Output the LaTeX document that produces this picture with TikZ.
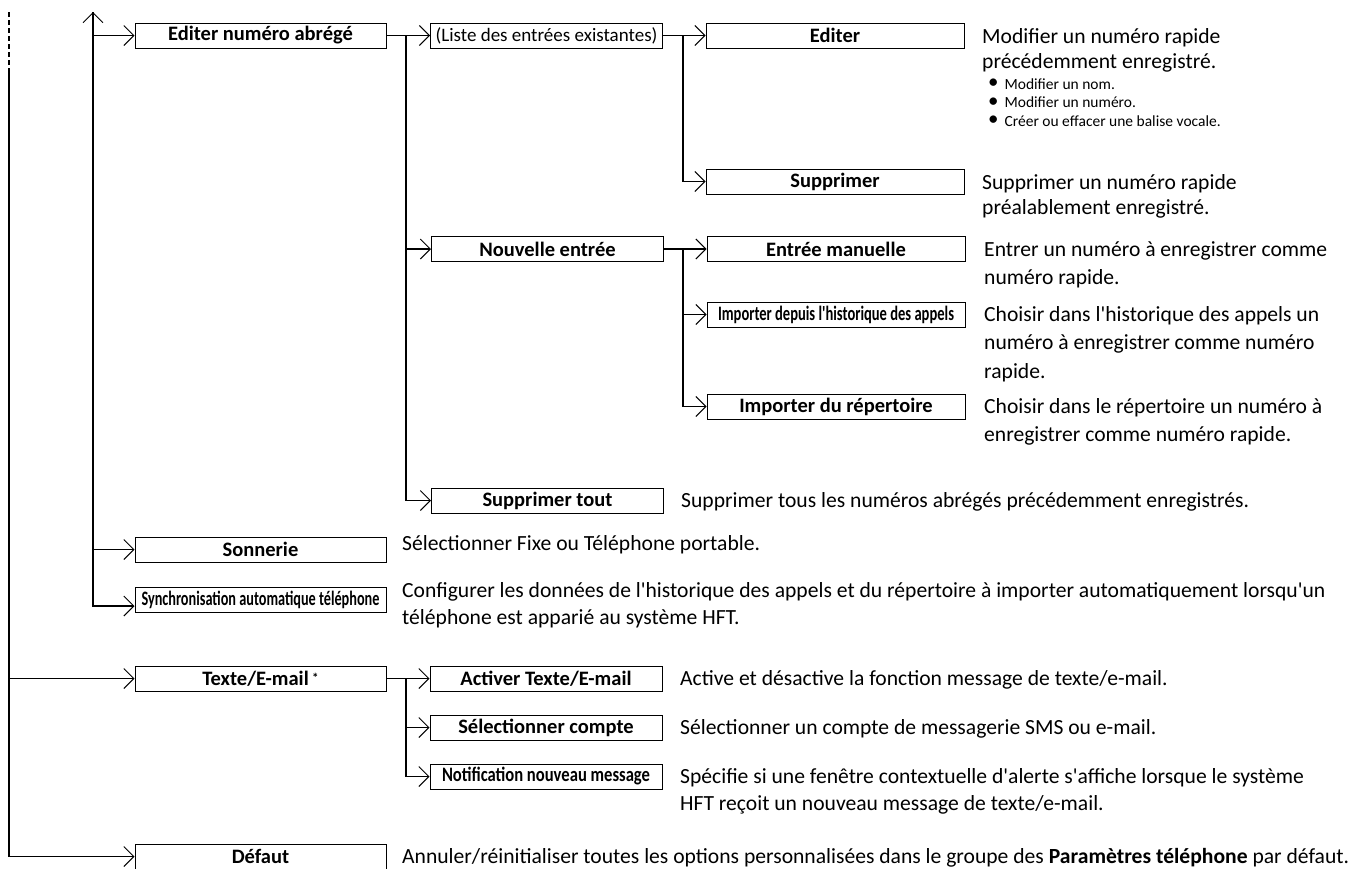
\documentclass[tikz,border=0pt]{standalone}
\usepackage{graphicx}
\usepackage{fontspec}
\setmainfont{Carlito}
\usetikzlibrary{arrows.meta}
\newcommand\lblfont{\fontsize{20.5}{22}\selectfont\bfseries}
\newcommand\lblregfont{\fontsize{19}{22}\selectfont}
\newcommand\descfont{\fontsize{21.6}{27}\selectfont}
\newcommand\descfontb{\fontsize{21.6}{25}\selectfont}
\newcommand\descfontc{\fontsize{21.6}{28.5}\selectfont}
\newcommand\bulfont{\fontsize{15.5}{18.5}\selectfont}
\newcommand\narrowlbl[2]{\resizebox{#1}{\height}{#2}}
\newcommand\apos{\XeTeXglyph\XeTeXcharglyph"0027\relax}
\newcommand\bul{\raisebox{0.5pt}{\scalebox{1.35}{\textbullet}}\hspace{6pt}}
\begin{document}
\begin{tikzpicture}[x=1pt,y=-1pt,
  box/.style={draw,line width=1pt,inner sep=0pt,minimum height=25pt,font=\lblfont,anchor=center},
  wa/.style={minimum width=251pt},
  wb/.style={minimum width=232pt},
  wc/.style={minimum width=258pt},
  conn/.style={line width=1.8pt},
  arr/.style={-{Straight Barb[length=10pt,width=20pt,line width=1pt]}},
  uparr/.style={{Straight Barb[length=10pt,width=20pt,line width=1pt]}-{Straight Barb[length=10pt,width=20pt,line width=1pt]}},
  desc/.style={font=\descfont,align=left,anchor=base west,inner sep=0pt},
]
\useasboundingbox (0,0) rectangle (1355,868);

% level 1 boxes
\node[box,wa] (ena)    at (260.5,35.5)  {Editer numéro abrégé};
\node[box,wa] (sonn)   at (260.5,549.5) {Sonnerie};
\node[box,wa] (sync)   at (260.5,599.5) {\narrowlbl{238pt}{Synchronisation automatique téléphone}};
\node[box,wa] (texte)  at (260.5,678.5) {Texte/E-mail\,\raisebox{3pt}{\fontsize{13}{13}\selectfont *}};
\node[box,wa] (defaut) at (260.5,856.5) {Défaut};

% level 2 boxes
\node[box,wb,font=\lblregfont] (liste) at (546.5,35.5) {(Liste des entrées existantes)};
\node[box,wb] (nouv)    at (547.5,249)   {Nouvelle entrée};
\node[box,wb] (suptout) at (547.5,500.5) {Supprimer tout};
\node[box,wb] (activer) at (546,678.5)   {Activer Texte/E-mail};
\node[box,wb] (selc)    at (546,727.5)   {Sélectionner compte};
\node[box,wb] (notif)   at (546,776.5)   {\narrowlbl{208pt}{Notification nouveau message}};

% level 3 boxes
\node[box,wc] (editer) at (835,35.5)  {Editer};
\node[box,wc] (supp)   at (835,181.5) {Supprimer};
\node[box,wc] (entree) at (836,249)   {Entrée manuelle};
\node[box,wc] (impdep) at (836,314.5) {\narrowlbl{236pt}{Importer depuis l\apos historique des appels}};
\node[box,wc] (imprep) at (836,406.5) {Importer du répertoire};

% branch points
\coordinate (m0) at (9,12);
\coordinate (m1) at (9,68);
\coordinate (t1) at (93,12);
\coordinate (c2) at (406,35.5);
\coordinate (c3) at (683,35.5);
\coordinate (c4) at (683,249);
\coordinate (c5) at (406,678.5);

% main line
\draw[line width=1.4pt,dash pattern=on 5pt off 3pt] (m0) -- (m1);
\draw[conn,arr] (m1) |- (defaut.west);
\draw[conn,arr] (m1) |- (texte.west);

% level 1 vertical
\draw[conn,uparr] (t1) |- ([yshift=-6.5pt]sync.west);
\draw[conn,arr] (t1) |- (ena.west);
\draw[conn,arr] (t1) |- (sonn.west);

% Editer numero abrege
\draw[conn,arr] (ena.east) -- (liste.west);
\draw[conn,arr] (c2) |- (nouv.west);
\draw[conn,arr] (c2) |- (suptout.west);

% Liste
\draw[conn,arr] (liste.east) -- (editer.west);
\draw[conn,arr] (c3) |- (supp.west);

% Nouvelle entree
\draw[conn,arr] (nouv.east) -- (entree.west);
\draw[conn,arr] (c4) |- (impdep.west);
\draw[conn,arr] (c4) |- (imprep.west);

% Texte
\draw[conn,arr] (texte.east) -- (activer.west);
\draw[conn,arr] (c5) |- (selc.west);
\draw[conn,arr] (c5) |- (notif.west);

% descriptions (anchor = baseline of last line)
\node[desc,font=\descfontb] (dedit) at (982,68) {Modifier un numéro rapide\\précédemment enregistré.};
\node[desc,font=\bulfont] (dbul) at (988,126) {\bul Modifier un nom.\\\bul Modifier un numéro.\\\bul Créer ou effacer une balise vocale.};
\node[desc,font=\descfontb] (dsupp) at (982,214) {Supprimer un numéro rapide\\préalablement enregistré.};
\node[desc,font=\descfontc] (dentree) at (984,284.5) {Entrer un numéro à enregistrer comme\\numéro rapide.};
\node[desc,font=\descfontc] (dimpdep) at (984,378) {Choisir dans l\apos historique des appels un\\numéro à enregistrer comme numéro\\rapide.};
\node[desc,font=\descfontc] (dimprep) at (984,441.5) {Choisir dans le répertoire un numéro à\\enregistrer comme numéro rapide.};
\node[desc] (dsuptout) at (681,507) {Supprimer tous les numéros abrégés précédemment enregistrés.};
\node[desc] (dsonn) at (402,550) {Sélectionner Fixe ou Téléphone portable.};
\node[desc] (dsync) at (402,624) {Configurer les données de l\apos historique des appels et du répertoire à importer automatiquement lorsqu\apos un\\téléphone est apparié au système HFT.};
\node[desc] (dactiver) at (680,685) {Active et désactive la fonction message de texte/e-mail.};
\node[desc] (dselc) at (680,734) {Sélectionner un compte de messagerie SMS ou e-mail.};
\node[desc] (dnotif) at (680,810) {Spécifie si une fenêtre contextuelle d\apos alerte s\apos affiche lorsque le système\\HFT reçoit un nouveau message de texte/e-mail.};
\node[desc] (ddefaut) at (402,863) {Annuler/réinitialiser toutes les options personnalisées dans le groupe des \textbf{Paramètres téléphone} par défaut.};
\end{tikzpicture}
\end{document}
